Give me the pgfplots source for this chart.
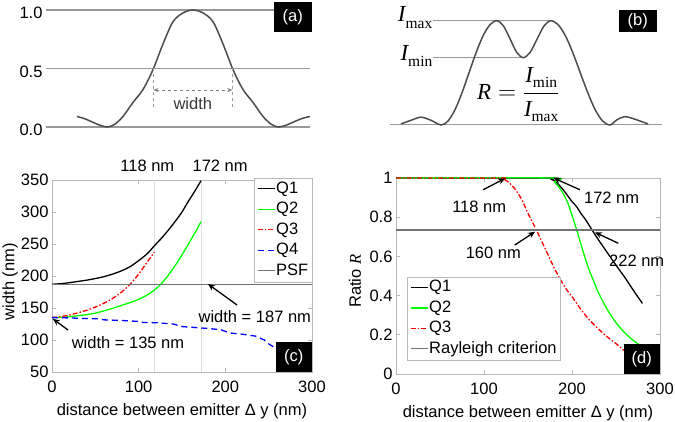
\documentclass[border=0pt]{standalone}
\usepackage{fontspec}
\setmainfont{Liberation Sans}
\newfontfamily\tnr{Liberation Serif}
\usepackage{pgfplots}
\pgfplotsset{compat=1.18}
\usetikzlibrary{arrows.meta}
\newcommand\fs{\fontsize{16.5}{19}\selectfont}
\definecolor{axgray}{gray}{0.72}
\definecolor{curvegray}{gray}{0.3}
\definecolor{linegray}{gray}{0.6}
\definecolor{psfgray}{gray}{0.45}
\pgfplotsset{
 matlab/.style={scale only axis, axis line style={axgray, line width=0.8pt},
   tick style={axgray, line width=0.8pt}, tick align=inside, major tick length=4pt,
   ticklabel style={font=\fs}, /pgf/number format/assume math mode=true,
   label style={font=\fs}, clip=false, xticklabel style={yshift=-5pt},
   every axis plot/.append style={line width=1.3pt},
   legend cell align=left,
   legend style={font=\fs, draw=axgray, fill=white, inner xsep=3pt, inner ysep=2pt,
     nodes={inner sep=1pt, text height=12pt, text depth=3.5pt}, row sep=3pt},
   legend image code/.code={\draw[mark repeat=2,mark phase=2,##1] plot coordinates {(0pt,0.35pt) (8.5pt,0.35pt) (17pt,0.35pt)};}}
}
\tikzset{
 ann/.style={-{Stealth[length=7pt,width=6pt]}, line width=1.3pt, black},
 tag/.style={fill=black, text=white, font=\fs, inner sep=0pt}
}
\begin{document}
\begin{tikzpicture}[x=1pt,y=1pt]
\path[use as bounding box] (0pt,0pt) rectangle (675pt,422pt);

% ---------------- panel (a)
\begin{axis}[scale only axis, at={(45.7pt,295pt)}, anchor=south west, width=264.3pt, height=117pt,
  xmin=45.7, xmax=310, ymin=0, ymax=1, clip=false,
  axis line style={draw=none}, major tick style={draw=none}, xtick=\empty,
  ytick={0,0.5,1}, yticklabels={0.0,0.5,1.0}, yticklabel style={font=\fs, yshift=-3pt, inner sep=3pt},
  ymajorgrids, grid style={linegray, line width=1.2pt}]
\addplot[curvegray, line width=1.5pt, smooth] coordinates {
 (77,0.09) (85,0.07) (93,0.04) (101,0.012) (108,0.0) (115,0.025) (123,0.09) (133,0.21) (143,0.32)
 (153,0.49) (163,0.71) (173,0.90) (183,0.975) (193,1) (203,0.975) (213,0.90) (223,0.71) (233,0.49)
 (243,0.32) (253,0.21) (263,0.09) (271,0.025) (278,0.0) (285,0.012) (293,0.04) (301,0.07) (310,0.09)};
\addplot[linegray, dashed, line width=0.8pt] coordinates {(153.3,0.5) (153.3,0.154)};
\addplot[linegray, dashed, line width=0.8pt] coordinates {(232.3,0.5) (232.3,0.154)};
\draw[gray, dashed, line width=0.8pt, {Stealth[length=5pt,width=4pt]}-{Stealth[length=5pt,width=4pt]}]
  (axis cs:153.3,0.316) -- (axis cs:232.3,0.316);
\node[font=\fs, text=curvegray!70!black] at (axis cs:192.8,0.2) {width};
\node[tag, anchor=north east, minimum width=38pt, minimum height=30pt] at (axis cs:312,1.068) {(a)};
\end{axis}

% ---------------- panel (b)
\begin{axis}[scale only axis, hide axis, at={(390pt,297pt)}, anchor=south west, width=271.7pt, height=104.3pt,
  xmin=390, xmax=661.7, ymin=0, ymax=1, clip=false]
\addplot[linegray, line width=1pt] coordinates {(390,0) (661.7,0)};
\addplot[linegray, line width=1pt] coordinates {(433,1) (550.7,1)};
\addplot[linegray, line width=1pt] coordinates {(433,0.645) (523.3,0.645)};
\addplot[curvegray, line width=1.5pt, smooth] coordinates {
 (401,0.01) (411,0.045) (421,0.075) (431,0.045) (441,0) (448,0.038) (455,0.146) (462,0.309) (469,0.5)
 (476,0.691) (483,0.854) (490,0.962) (497,1) (503.6,0.948) (510.2,0.8225) (516.7,0.697) (523.3,0.645)
 (530.2,0.697) (537,0.8225) (543.9,0.948) (550.7,1) (558.1,0.962) (565.5,0.854) (572.9,0.691)
 (580.3,0.5) (587.8,0.309) (595.2,0.146) (602.6,0.038) (610,0) (617,0.05) (625,0.08) (635,0.055) (648,0.01)};
\node[anchor=base east, inner sep=0.5pt] at (axis cs:433,0.99)
  {{\tnr\fontsize{23}{23}\selectfont\itshape I}\raisebox{-6.5pt}{\tnr\fontsize{15.5}{15.5}\selectfont max}};
\node[anchor=base east, inner sep=0.5pt] at (axis cs:433,0.623)
  {{\tnr\fontsize{23}{23}\selectfont\itshape I}\raisebox{-6.5pt}{\tnr\fontsize{15.5}{15.5}\selectfont min}};
\node[font=\fontsize{23}{23}\selectfont, inner sep=0pt] at (axis cs:518.3,0.289)
  {$\displaystyle \hbox{\tnr\itshape R} = \frac{\hbox{{\tnr\itshape I}\raisebox{-5pt}{\tnr\fontsize{15.5}{15.5}\selectfont min}}}{\hbox{{\tnr\itshape I}\raisebox{-5pt}{\tnr\fontsize{15.5}{15.5}\selectfont max}}}$};
\node[tag, anchor=north east, minimum width=38pt, minimum height=22pt] at (axis cs:657,1.1026) {(b)};
\end{axis}

% ---------------- panel (c)
\begin{axis}[matlab, at={(52pt,50pt)}, anchor=south west, width=260pt, height=192pt,
  xmin=0, xmax=300, ymin=50, ymax=350, xtick={0,100,200,300}, ytick={50,100,...,350},
  xlabel={distance between emitter Δ y (nm)}, ylabel={width (nm)},
  xlabel style={at={(axis description cs:0.5,0)}, anchor=center, yshift=-39.7pt},
  ylabel style={at={(axis description cs:-0.1615,0.47)}, anchor=center},
  legend style={at={(1.002,1.01)}, anchor=north east}]
\addplot[gray!25, line width=0.6pt, forget plot] coordinates {(118,50) (118,350)};
\addplot[gray!25, line width=0.6pt, forget plot] coordinates {(172,50) (172,350)};
\addplot[black, smooth] coordinates {
 (0,187) (10,188) (20,189.5) (30,191.5) (40,193.5) (50,196) (60,199) (70,203) (80,208) (90,214.5)
 (100,224) (110,235) (118,247) (125,257) (132,268) (142,285) (150,300) (157,316) (165,333) (172,349)};
\addplot[green, smooth] coordinates {
 (0,135) (10,135.5) (20,136.5) (30,138) (40,139.5) (50,142) (60,145.5) (70,149.5) (80,154) (90,158.5)
 (100,163.5) (110,170.5) (120,180) (130,194) (140,212) (150,233) (160,256) (166,270) (172,285)};
\addplot[red, dash pattern=on 5pt off 2pt on 1.5pt off 2pt, smooth] coordinates {
 (0,135) (10,136.7) (20,139) (30,142.5) (40,146.5) (50,151.5) (60,157.5) (70,165) (80,174.5) (90,187)
 (100,203) (110,222) (118,237)};
\addplot[blue, dash pattern=on 6pt off 4pt] coordinates {
 (0,135) (20,134.5) (40,133.5) (55,133) (60,131.5) (80,130.5) (100,129) (105,127.5) (120,127)
 (140,125) (150,121) (160,120) (180,118) (195,116) (205,111) (220,109) (235,106) (245,100) (250,94) (257,88) (265,85)};
\addplot[psfgray, line width=1.2pt] coordinates {(0,187) (300,187)};
\legend{Q1,Q2,Q3,Q4,PSF}
\node[font=\fs] at (axis cs:110,372) {118 nm};
\node[font=\fs] at (axis cs:194,372) {172 nm};
\draw[ann] (axis cs:18.5,115.6) -- (axis cs:1,133);
\node[font=\fs] at (axis cs:87.7,95.3) {width = 135 nm};
\draw[ann] (axis cs:213.5,154.7) -- (axis cs:180,187.5);
\node[font=\fs] at (axis cs:234,136) {width = 187 nm};
\node[tag, anchor=south east, minimum width=36pt, minimum height=30pt] at (rel axis cs:1,0) {(c)};
\end{axis}

% ---------------- panel (d)
\begin{axis}[matlab, at={(396pt,48pt)}, anchor=south west, width=264pt, height=196pt,
  xmin=0, xmax=300, ymin=0, ymax=1, xtick={0,100,200,300}, ytick={0,0.2,0.4,0.6,0.8,1},
  xlabel={distance between emitter Δ y (nm)}, ylabel={Ratio {\tnr\itshape R}},
  xlabel style={at={(axis description cs:0.5,0)}, anchor=center, yshift=-39.7pt},
  ylabel style={at={(axis description cs:-0.155,0.474)}, anchor=center},
  legend style={at={(0.0405,0.496)}, anchor=north west}]
\addplot[black, smooth] coordinates {
 (0,1) (172,1) (176,0.995) (180,0.985) (185,0.965) (190,0.94) (195,0.91) (200,0.88) (205,0.855)
 (210,0.82) (215,0.79) (220,0.755) (224,0.726) (230,0.685) (240,0.62) (250,0.555) (260,0.493) (270,0.425) (280,0.36)};
\addplot[green, smooth] coordinates {
 (0,1) (175,1) (180,0.98) (185,0.955) (190,0.92) (195,0.875) (200,0.81) (205,0.74) (210,0.665)
 (215,0.59) (220,0.525) (225,0.47) (230,0.415) (240,0.33) (250,0.262) (260,0.21) (270,0.17) (280,0.14)};
\addplot[red, dash pattern=on 5pt off 2pt on 1.5pt off 2pt, smooth] coordinates {
 (0,1) (118,1) (122,0.995) (126,0.985) (130,0.97) (135,0.945) (141,0.905) (145,0.87) (150,0.82)
 (155,0.775) (160,0.73) (170,0.635) (179,0.548) (187,0.48) (194,0.43) (200,0.395) (210,0.33) (220,0.275)
 (230,0.23) (240,0.19) (250,0.155) (259,0.12)};
\addplot[psfgray, line width=1.2pt] coordinates {(0,0.735) (300,0.735)};
\legend{Q1,Q2,Q3,Rayleigh criterion}
\draw[ann] (axis cs:99,0.94) -- (axis cs:124,0.998);
\node[font=\fs] at (axis cs:94.5,0.853) {118 nm};
\draw[ann] (axis cs:209,0.94) -- (axis cs:179,1.0);
\node[font=\fs] at (axis cs:245,0.9) {172 nm};
\draw[ann] (axis cs:135,0.658) -- (axis cs:158,0.726);
\node[font=\fs] at (axis cs:110.6,0.62) {160 nm};
\draw[ann] (axis cs:252.6,0.667) -- (axis cs:226,0.723);
\node[font=\fs] at (axis cs:273.5,0.58) {222 nm};
\node[tag, anchor=south east, minimum width=36pt, minimum height=30pt] at (rel axis cs:1,0) {(d)};
\end{axis}
\end{tikzpicture}
\end{document}
